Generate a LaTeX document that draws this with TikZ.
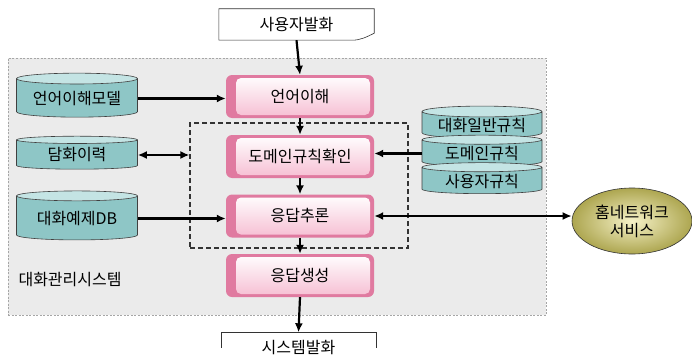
\documentclass[tikz,border=0pt]{standalone}
\usepackage{fontspec}
\setmainfont{Noto Sans CJK KR}
\usetikzlibrary{shapes.geometric,arrows.meta}
\definecolor{pinkdark}{HTML}{E07AA0}
\definecolor{pinklight}{HTML}{F6BDD2}
\definecolor{cylbody}{HTML}{8EC6C6}
\definecolor{cylend}{HTML}{C4E4E4}
\definecolor{regionfill}{HTML}{EBEBEB}
\definecolor{olivein}{HTML}{F6F2C8}
\definecolor{oliveout}{HTML}{ADA650}
\tikzset{
  txt/.style={font=\fontsize{16}{18}\selectfont},
  proc/.style={txt, minimum width=148pt, minimum height=43pt, rounded corners=6pt, fill=pinkdark,
    path picture={\shade[top color=white, bottom color=pinklight, rounded corners=5pt]
      ([xshift=10pt,yshift=-3pt]path picture bounding box.north west) rectangle
      ([xshift=-4pt,yshift=3pt]path picture bounding box.south east);}},
  cyl/.style={txt, cylinder, shape border rotate=90, aspect=0.12, draw=black!75, line width=0.6pt,
    minimum width=121pt, cylinder uses custom fill, cylinder body fill=cylbody, cylinder end fill=cylend, inner sep=1pt},
  arr/.style={line width=2.2pt, -{Latex[length=9pt,width=8pt]}},
  darr/.style={line width=2.2pt, {Latex[length=9pt,width=8pt]}-{Latex[length=9pt,width=8pt]}},
  docbox/.style={txt, minimum width=155pt, minimum height=31pt},
}
\begin{document}
\begin{tikzpicture}[x=1pt,y=-1pt]
\useasboundingbox (0,0) rectangle (692,361);
% region
\node[draw=gray!70, dash pattern=on 2pt off 1.5pt, line width=0.7pt, fill=regionfill, minimum width=538pt, minimum height=257pt, inner sep=0pt] (region) at (277,186.5) {};
\node[txt, anchor=west] (lbl) at (15,280) {대화관리시스템};
% dashed box
\node[draw=black!80, dash pattern=on 5pt off 3pt, line width=1.2pt, minimum width=218pt, minimum height=125pt, inner sep=0pt] (dbox) at (299,185.5) {};
% process boxes
\node[proc] (lu) at (300,96.5) {언어이해};
\node[proc] (dr) at (300,156.5) {도메인규칙확인};
\node[proc] (ri) at (300,216) {응답추론};
\node[proc] (rg) at (300,275.5) {응답생성};
% top and bottom documents
\node[docbox] (user) at (296.5,24.5) {};
\draw[black!80, line width=0.6pt, fill=white] (user.north west) -- (user.north east) -- ([yshift=7pt]user.south east)
  .. controls ([xshift=-8pt,yshift=3pt]user.south east) and ([xshift=-14pt,yshift=0pt]user.south east) .. ([xshift=-22pt]user.south east) -- (user.south west) -- cycle;
\node[txt] at (user) {사용자발화};
\node[docbox] (sys) at (298.5,348) {};
\draw[black!80, line width=0.6pt, fill=white] ([yshift=16pt]sys.south west) -- (sys.north west) -- (sys.north east) -- ([yshift=16pt]sys.south east);
\node[txt] at (sys) {시스템발화};
% left cylinders
\node[cyl, minimum height=44pt] (lm) at (77,98.5) {언어이해모델};
\node[cyl, minimum height=33pt] (dh) at (77,155) {담화이력};
\node[cyl, minimum height=49pt] (ex) at (77,218.5) {대화예제DB};
% right stacked cylinders
\node[cyl, minimum width=120pt, minimum height=31pt] (r1) at (482,125.5) {대화일반규칙};
\node[cyl, minimum width=120pt, minimum height=31pt] (r2) at (482,153.5) {도메인규칙};
\node[cyl, minimum width=120pt, minimum height=31pt] (r3) at (482,181) {사용자규칙};
% ellipse
\node[txt, ellipse, draw=black!80, line width=0.6pt, inner color=olivein, outer color=oliveout, minimum width=120pt, minimum height=66pt, align=center, inner sep=0pt] (hn) at (632,221) {홈네트워크\\서비스};
% connectors
\draw[arr] (user.south) -- (lu.north);
\draw[arr] (lm.east) -- (lm.east -| lu.west);
\draw[arr] (lu.south) -- (dr.north);
\draw[darr] (dh.east) -- (dh.east -| dbox.west);
\draw[arr] (r2.west) -- (r2.west -| dr.east);
\draw[arr] (dr.south) -- (ri.north);
\draw[arr] (ex.east) -- (ex.east -| ri.west);
\draw[darr] (ri.east) -- (ri.east -| hn.west);
\draw[arr] (ri.south) -- (rg.north);
\draw[arr] (rg.south) -- (sys.north);
\end{tikzpicture}
\end{document}
